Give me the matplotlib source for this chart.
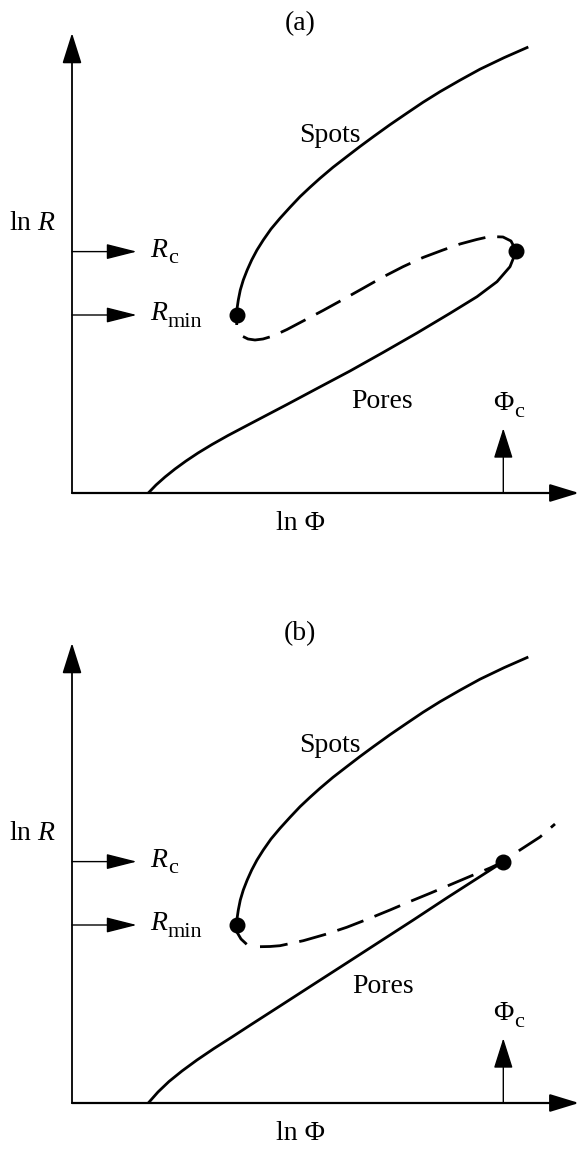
import matplotlib
matplotlib.use("Agg")
import matplotlib.pyplot as plt
from matplotlib.patches import FancyArrowPatch

plt.rcParams["font.family"] = ["Liberation Serif", "DejaVu Serif"]
plt.rcParams["mathtext.fontset"] = "custom"
plt.rcParams["mathtext.rm"] = "Liberation Serif"
plt.rcParams["mathtext.it"] = "Liberation Serif:italic"

# coordinates: ln(Phi) and ln(R) in arbitrary units, origin at axes corner
R_C = 241.4
R_MIN = 178.0
PHI_C = 431.3

# panel (a)
spots_a_x = [164.7, 164.7, 165.2, 166.3, 168.3, 171.3, 175.2, 179.7, 185, 191.3, 199, 208, 218, 228, 238, 248,
             261, 274.7, 288, 301.3, 318, 334.7, 351, 368, 388, 408, 432, 456.3]
spots_a_y = [168, 178, 185.5, 193, 203, 213, 223, 233, 243, 253, 264, 274.7, 285.7, 296.3, 305.7, 314.7,
             325.7, 336.3, 346.5, 356.3, 368.3, 379.7, 390.7, 401.3, 412.8, 423.8, 435.3, 446]
unstable_a_x = [171, 176, 183, 191, 201, 215, 233, 251, 271, 291, 311, 331, 351, 371, 388, 404.7, 418, 431, 439, 444]
unstable_a_y = [156.5, 154, 153, 154, 157, 163.5, 173, 182.5, 193.5, 204.7, 216, 226.3, 235.5, 243, 249, 253.5, 256.5, 256, 252, 242.3]
pores_a_x = [444, 438, 425, 405, 378, 345, 311, 278, 245, 215, 194, 174, 156, 140, 126, 114, 103, 93, 84, 76.3]
pores_a_y = [241.3, 226.3, 211.3, 196.3, 179.7, 160, 140.5, 122, 104.5, 88.5, 77.5, 67, 57.5, 48.5, 40, 32, 24, 16, 8, 0]
dots_a_x = [164.7, 444]
dots_a_y = [178, 242.3]

# panel (b)
spots_b_x = [174.7, 169, 165.3, 164.7, 165.2, 166.3, 168.3, 171.3, 175.2, 179.7, 185, 191.3, 199, 208, 218, 228, 238,
             248, 261, 274.7, 288, 301.3, 318, 334.7, 351, 368, 388, 408, 432, 456.3]
spots_b_y = [158.7, 164, 170.3, 178, 185.5, 193, 203, 213, 223, 233, 243, 253, 264, 274.7, 285.7, 296.3, 305.7,
             314.7, 325.7, 336.3, 346.5, 356.3, 368.3, 379.7, 390.7, 401.3, 412.8, 423.8, 435.3, 446]
unstable_b_x = [188, 198, 208, 231.3, 253, 274.7, 296, 318, 338, 358, 380, 401.3, 418, 431.3, 448, 468, 483]
unstable_b_y = [156.3, 156.5, 157.3, 162.3, 168.5, 175.7, 184, 193, 201.5, 209.7, 219, 228, 235, 241.3, 253, 266, 279]
pores_b_x = [431.3, 411.3, 374.7, 341.3, 308, 274.7, 241.3, 208, 180, 160, 142, 125, 110, 97, 86, 76.3]
pores_b_y = [241.3, 228.5, 205, 183, 161.5, 140, 118.5, 97, 79, 66, 54.5, 43, 32, 21.5, 11, 0]
dots_b_x = [164.7, 431.3]
dots_b_y = [178, 241.3]

panels = [
    dict(label="(a)", spots=(spots_a_x, spots_a_y), unstable=(unstable_a_x, unstable_a_y),
         pores=(pores_a_x, pores_a_y), dots=(dots_a_x, dots_a_y), pores_txt=(309.7, 91.3)),
    dict(label="(b)", spots=(spots_b_x, spots_b_y), unstable=(unstable_b_x, unstable_b_y),
         pores=(pores_b_x, pores_b_y), dots=(dots_b_x, dots_b_y), pores_txt=(311.3, 116.3)),
]

FS = 20


def arrow(ax, start, end, lw, hl, hw):
    a = FancyArrowPatch(start, end, arrowstyle=f"-|>,head_length={hl},head_width={hw}",
                        mutation_scale=1, lw=lw, color="black", shrinkA=0, shrinkB=0,
                        clip_on=False)
    ax.add_patch(a)


def sub_label(ax, x, y, main, sub, italic):
    # main symbol with a larger-than-mathtext subscript, like the original figure
    t = ax.text(x, y, main, fontsize=FS, ha="left", va="baseline",
                fontstyle="italic" if italic else "normal")
    bb = t.get_window_extent(renderer=fig.canvas.get_renderer())
    x1 = ax.transData.inverted().transform((bb.x1, bb.y0))[0]
    ax.annotate(sub, xy=(x1, y), xytext=(0.5, -4.7), textcoords="offset points",
                fontsize=FS * 0.8, ha="left", va="baseline")


fig = plt.figure(figsize=(5.8, 11.49), dpi=100)
ax_a = fig.add_axes([0, 539 / 1149, 1, 610 / 1149])
ax_b = fig.add_axes([0, 0, 1, 539 / 1149])
ax_a.set_ylim(-117, 493)
ax_b.set_ylim(-46, 493)

for ax, p in zip([ax_a, ax_b], panels):
    ax.set_xlim(-72, 508)
    ax.axis("off")

    # axes with arrows
    arrow(ax, (0, 0), (0, 460), 1.3, 19, 6)
    arrow(ax, (0, 0), (507, 0), 1.6, 18, 5.5)
    # R_c, R_min and Phi_c markers
    arrow(ax, (0, R_C), (64.7, R_C), 1.0, 19, 4.8)
    arrow(ax, (0, R_MIN), (64.7, R_MIN), 1.0, 19, 4.8)
    arrow(ax, (PHI_C, 0), (PHI_C, 64.7), 1.0, 19, 6)

    ax.plot(*p["spots"], color="black", lw=2, solid_capstyle="butt", solid_joinstyle="round")
    ax.plot(*p["pores"], color="black", lw=2, solid_capstyle="butt", solid_joinstyle="round")
    ax.plot(*p["unstable"], color="black", lw=2, dashes=(10, 4.3), dash_capstyle="butt")
    ax.plot(*p["dots"], "o", color="black", ms=10.5, ls="none")

    ax.text(228, 469, p["label"], fontsize=FS, ha="center", va="center")
    ax.text(-39.5, 270, r"ln $R$", fontsize=FS, ha="center", va="center")
    sub_label(ax, 78, 236.3, "R", "c", True)
    sub_label(ax, 78, 173, "R", "min", True)
    ax.text(258, 358, "Spots", fontsize=FS, ha="center", va="center")
    ax.text(*p["pores_txt"], "Pores", fontsize=FS, ha="center", va="center")
    sub_label(ax, 421, 83, "Φ", "c", False)
    ax.text(228, -31, "ln Φ", fontsize=FS, ha="center", va="center", clip_on=False)

fig.savefig("out.png", dpi=100)
